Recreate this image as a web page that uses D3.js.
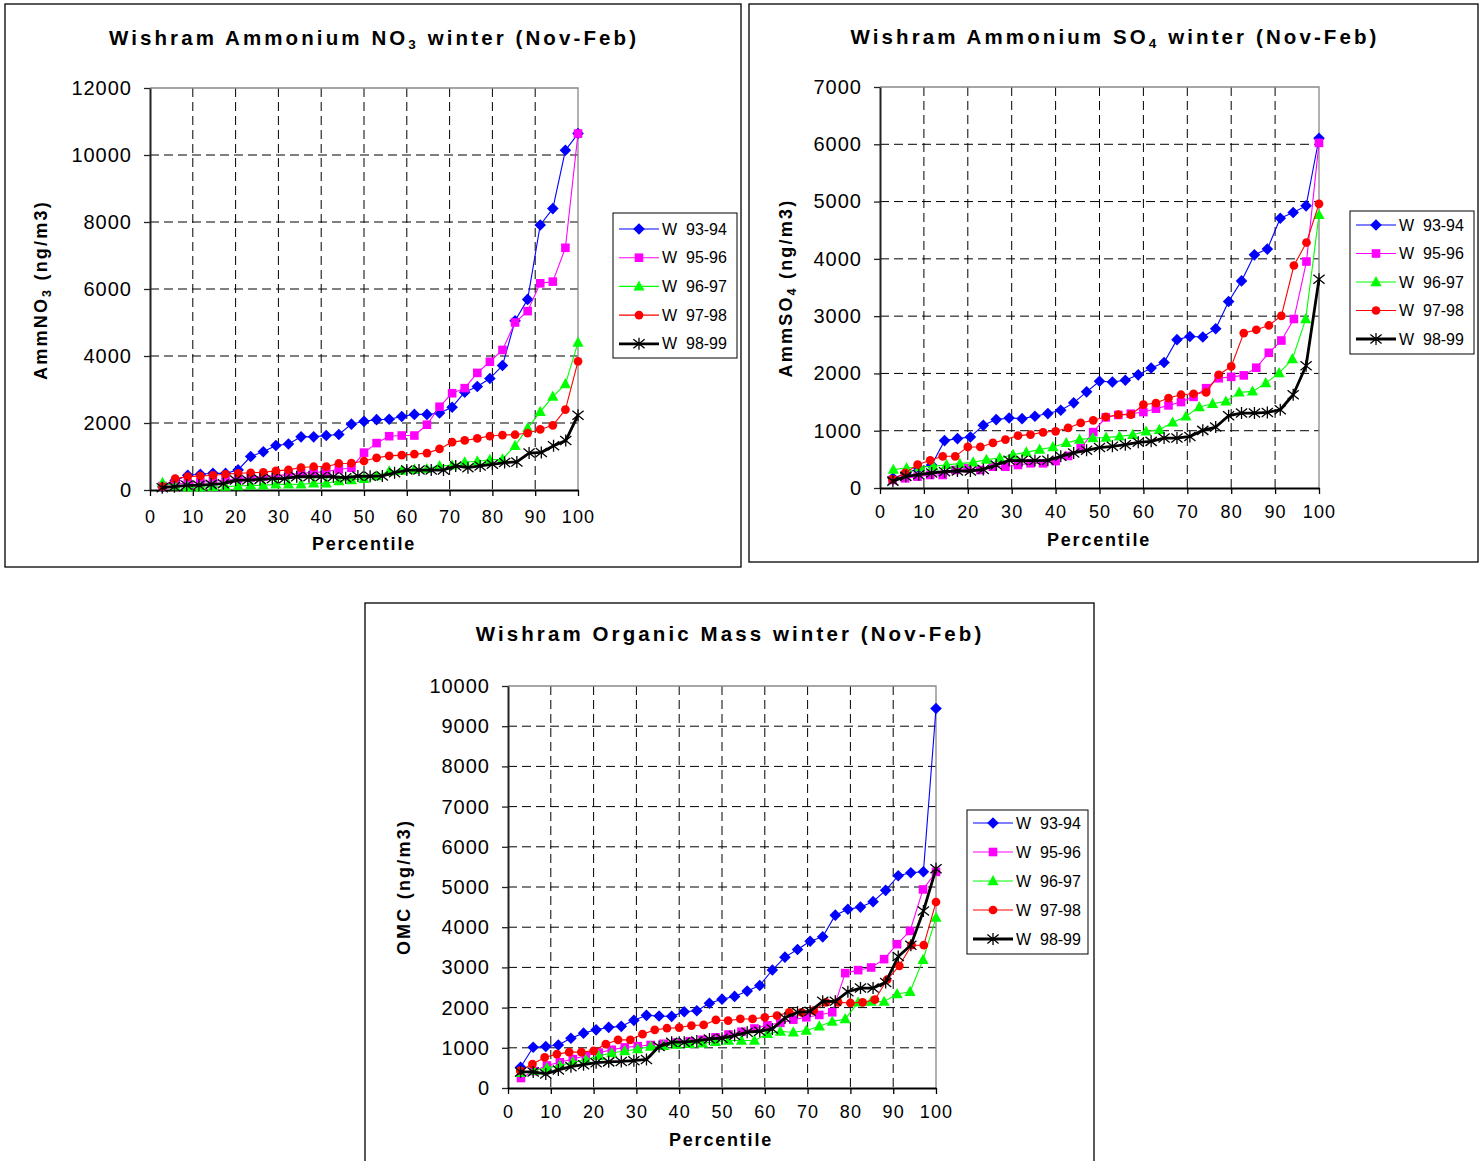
<!DOCTYPE html>
<html>
<head>
<meta charset="utf-8">
<script src="https://cdn.jsdelivr.net/npm/d3@7/dist/d3.min.js"></script>
<style>
  body { margin: 0; background: #fff; }
  svg { display: block; }
  text { font-family: "Liberation Sans", Arial, sans-serif; fill: #000; }
</style>
</head>
<body>
<div id="chart"></div>
<script>
// legend labels, same for every panel
const seasons = ["W  93-94", "W  95-96", "W  96-97", "W  97-98", "W  98-99"]
const xTicks = [0, 10, 20, 30, 40, 50, 60, 70, 80, 90, 100]

// ammonium nitrate (ng/m3), sorted winter samples
const no3W9394 = [100, 280, 440, 470, 500, 495, 600, 1000, 1140, 1330, 1375, 1587, 1587, 1627, 1656, 1965, 2050, 2100, 2110, 2196, 2256, 2256, 2300, 2472, 2920, 3090, 3330, 3715, 5050, 5690, 7910, 8400, 10140, 10640]
const no3W9596 = [120, 180, 200, 230, 260, 300, 340, 370, 400, 430, 460, 500, 520, 550, 614, 663, 1115, 1400, 1606, 1626, 1626, 1949, 2485, 2889, 3040, 3495, 3828, 4180, 5000, 5340, 6170, 6220, 7230, 10640]
const no3W9697 = [218, 119, 80, 80, 99, 100, 119, 139, 139, 168, 168, 170, 198, 200, 267, 297, 337, 420, 560, 580, 610, 630, 720, 740, 830, 860, 900, 920, 1320, 1848, 2333, 2788, 3161, 4400]
const no3W9798 = [100, 337, 400, 420, 440, 470, 500, 515, 530, 570, 600, 670, 695, 700, 792, 800, 865, 960, 1020, 1040, 1071, 1101, 1225, 1430, 1480, 1540, 1610, 1640, 1650, 1700, 1808, 1930, 2400, 3840]
const no3W9899 = [69, 99, 139, 139, 168, 188, 297, 297, 317, 337, 337, 396, 396, 396, 396, 366, 416, 410, 420, 515, 596, 596, 596, 596, 717, 667, 717, 768, 818, 838, 1101, 1121, 1323, 1475, 2232]

// ammonium sulfate (ng/m3)
const so4W9394 = [175, 250, 350, 400, 827, 862, 891, 1094, 1194, 1223, 1211, 1252, 1299, 1357, 1486, 1678, 1864, 1850, 1880, 1975, 2095, 2190, 2590, 2645, 2635, 2780, 3255, 3615, 4070, 4170, 4710, 4810, 4925, 6105]
const so4W9596 = [140, 169, 198, 227, 227, 314, 343, 314, 372, 372, 402, 431, 431, 470, 560, 695, 975, 1233, 1275, 1297, 1326, 1385, 1442, 1500, 1591, 1742, 1916, 1940, 1966, 2100, 2360, 2574, 2950, 3953, 6024]
const so4W9697 = [320, 350, 367, 378, 407, 425, 448, 495, 524, 582, 622, 670, 717, 787, 845, 874, 880, 901, 930, 988, 1017, 1145, 1250, 1413, 1471, 1512, 1669, 1686, 1831, 2006, 2250, 2948, 4767]
const so4W9798 = [150, 262, 407, 483, 553, 553, 717, 717, 787, 845, 914, 932, 972, 990, 1049, 1136, 1182, 1240, 1279, 1279, 1454, 1483, 1570, 1628, 1645, 1669, 1977, 2122, 2704, 2762, 2837, 3006, 3884, 4285, 4960]
const so4W9899 = [120, 203, 232, 262, 285, 297, 297, 325, 402, 483, 478, 478, 483, 553, 612, 658, 705, 727, 756, 797, 814, 872, 872, 901, 1006, 1064, 1262, 1308, 1308, 1320, 1366, 1628, 2134, 3645]

// organic mass (ng/m3)
const omcW9394 = [517, 1013, 1033, 1071, 1236, 1365, 1447, 1509, 1534, 1683, 1807, 1790, 1782, 1898, 1922, 2109, 2210, 2278, 2410, 2551, 2935, 3255, 3445, 3651, 3760, 4300, 4445, 4500, 4636, 4917, 5280, 5355, 5380, 9439]
const omcW9596 = [248, 420, 560, 640, 720, 800, 880, 950, 1010, 1040, 1070, 1100, 1130, 1160, 1200, 1260, 1330, 1400, 1480, 1560, 1620, 1700, 1759, 1817, 1883, 2858, 2932, 2998, 3205, 3577, 3907, 4939, 5377]
const omcW9697 = [380, 430, 500, 560, 640, 700, 800, 870, 920, 970, 1030, 1050, 1080, 1100, 1110, 1150, 1181, 1181, 1181, 1346, 1404, 1388, 1429, 1536, 1652, 1718, 2130, 2148, 2148, 2338, 2395, 3188, 4237]
const omcW9798 = [430, 595, 760, 843, 892, 892, 925, 1090, 1198, 1198, 1338, 1446, 1487, 1503, 1553, 1569, 1693, 1677, 1718, 1718, 1759, 1801, 1883, 1883, 1925, 2131, 2131, 2115, 2131, 2197, 2693, 3040, 3552, 3552, 4626]
const omcW9899 = [400, 400, 350, 450, 530, 580, 630, 650, 660, 680, 710, 1030, 1140, 1140, 1170, 1220, 1240, 1305, 1388, 1412, 1470, 1743, 1883, 1908, 2156, 2156, 2395, 2486, 2486, 2627, 3271, 3552, 4403, 5452]

// look of each season, in legend order
const styles = [
  {color: '#0000ff', marker: 'diamond', width: 1.1},
  {color: '#ff00ff', marker: 'square', width: 1.1},
  {color: '#00ff00', marker: 'triangle', width: 1.1},
  {color: '#ff0000', marker: 'circle', width: 1.1},
  {color: '#000000', marker: 'star', width: 2.8}
]

const panels = [
  {
    frame: {x: 5, y: 4, w: 736, h: 563},
    plot: {x0: 150, x1: 578, y0: 88, y1: 490},
    yMax: 12000, yStep: 2000, xPad: 14,
    title: ['Wishram Ammonium NO', '3', ' winter (Nov-Feb)'], titleX: 374, titleY: 45,
    ylabel: ['AmmNO', '3', ' (ng/m3)'], ylabelX: 47, ylabelY: 290,
    xlabelX: 364, xlabelY: 550,
    legend: {x: 613, y: 213, w: 124, h: 145, row0: 229, step: 28.7},
    series: [no3W9394, no3W9596, no3W9697, no3W9798, no3W9899]
  },
  {
    frame: {x: 749, y: 4, w: 729, h: 558},
    plot: {x0: 880, x1: 1319, y0: 87, y1: 488},
    yMax: 7000, yStep: 1000, xPad: 11,
    title: ['Wishram Ammonium SO', '4', ' winter (Nov-Feb)'], titleX: 1115, titleY: 44,
    ylabel: ['AmmSO', '4', ' (ng/m3)'], ylabelX: 792, ylabelY: 288,
    xlabelX: 1099, xlabelY: 546,
    legend: {x: 1350, y: 211, w: 124, h: 143, row0: 225, step: 28.5},
    series: [so4W9394, so4W9596, so4W9697, so4W9798, so4W9899]
  },
  {
    frame: {x: 365, y: 603, w: 729, h: 620},
    plot: {x0: 508, x1: 936, y0: 686, y1: 1088},
    yMax: 10000, yStep: 1000, xPad: 11,
    title: ['Wishram Organic Mass winter (Nov-Feb)'], titleX: 730, titleY: 641,
    ylabel: ['OMC (ng/m3)'], ylabelX: 410, ylabelY: 887,
    xlabelX: 721, xlabelY: 1146,
    legend: {x: 967, y: 810, w: 121, h: 144, row0: 823, step: 29},
    series: [omcW9394, omcW9596, omcW9697, omcW9798, omcW9899]
  }
]

function markerPath(kind) {
  switch (kind) {
    case 'diamond': return 'M0,-5.8L5.8,0L0,5.8L-5.8,0Z'
    case 'square': return 'M-4.3,-4.3H4.3V4.3H-4.3Z'
    case 'triangle': return 'M0,-6L5.6,4.2H-5.6Z'
    case 'circle': return d3.symbol(d3.symbolCircle, 60)()
    default: return 'M0,-6V6M-5.6,-4.5L5.6,4.5M-5.6,4.5L5.6,-4.5'
  }
}

function drawMarker(sel, st) {
  sel.attr('d', markerPath(st.marker))
  if (st.marker === 'star') {
    sel.attr('fill', 'none').attr('stroke', st.color).attr('stroke-width', 1.3)
  } else {
    sel.attr('fill', st.color).attr('stroke', 'none')
  }
}

// text with optional subscript: parts = [main, sub, rest]
function richText(el, parts, subSize) {
  el.append('tspan').text(parts[0])
  if (parts.length > 1) {
    el.append('tspan').attr('font-size', subSize).attr('dy', 4).text(parts[1])
    el.append('tspan').attr('dy', -4).text(parts[2])
  }
}

const svg = d3.select('#chart').append('svg')
  .attr('width', 1484)
  .attr('height', 1161)

panels.forEach(p => {
  let g = svg.append('g')
  let x = d3.scaleLinear().domain([0, 100]).range([p.plot.x0, p.plot.x1])
  let y = d3.scaleLinear().domain([0, p.yMax]).range([p.plot.y1, p.plot.y0])
  let yTicks = d3.range(0, p.yMax + 1, p.yStep)

  g.append('rect')
    .attr('x', p.frame.x).attr('y', p.frame.y)
    .attr('width', p.frame.w).attr('height', p.frame.h)
    .attr('fill', '#fff').attr('stroke', '#000').attr('stroke-width', 1.3)

  // dashed grid
  g.selectAll('.hgrid').data(yTicks.slice(1, -1)).enter().append('line')
    .attr('x1', p.plot.x0).attr('x2', p.plot.x1)
    .attr('y1', d => y(d)).attr('y2', d => y(d))
    .attr('stroke', '#000').attr('stroke-width', 1).attr('stroke-dasharray', '9,5')
  g.selectAll('.vgrid').data(xTicks.slice(1, -1)).enter().append('line')
    .attr('x1', d => x(d)).attr('x2', d => x(d))
    .attr('y1', p.plot.y0).attr('y2', p.plot.y1)
    .attr('stroke', '#000').attr('stroke-width', 1).attr('stroke-dasharray', '9,5')

  // plot area top and right edges
  g.append('path')
    .attr('d', `M${p.plot.x0},${p.plot.y0}H${p.plot.x1}V${p.plot.y1}`)
    .attr('fill', 'none').attr('stroke', '#888').attr('stroke-width', 1.3)

  let yAxis = g.append('g')
    .attr('transform', `translate(${p.plot.x0},0)`)
    .call(d3.axisLeft(y).tickValues(yTicks).tickSize(6).tickSizeOuter(0).tickPadding(12).tickFormat(d3.format('d')))
  yAxis.select('.domain').attr('stroke', '#222').attr('stroke-width', 2)
  yAxis.selectAll('.tick line').attr('stroke', '#222').attr('stroke-width', 1.3)
  yAxis.selectAll('.tick text')
    .attr('font-size', 20).attr('letter-spacing', 1)
    .attr('font-family', '"Liberation Sans", Arial, sans-serif').attr('fill', '#000')

  let xAxis = g.append('g')
    .attr('transform', `translate(0,${p.plot.y1})`)
    .call(d3.axisBottom(x).tickValues(xTicks).tickSize(6).tickSizeOuter(0).tickPadding(p.xPad))
  xAxis.select('.domain').attr('stroke', '#000').attr('stroke-width', 2)
  xAxis.selectAll('.tick line').attr('stroke', '#000').attr('stroke-width', 1.3)
  xAxis.selectAll('.tick text')
    .attr('font-size', 18).attr('letter-spacing', 1.1)
    .attr('font-family', '"Liberation Sans", Arial, sans-serif').attr('fill', '#000')

  // series
  p.series.forEach((vals, si) => {
    let st = styles[si]
    let pts = vals.map((v, i) => ({p: 100 * (i + 1) / vals.length, v: v}))
    let line = d3.line().x(d => x(d.p)).y(d => y(d.v))
    g.append('path')
      .datum(pts)
      .attr('d', line)
      .attr('fill', 'none')
      .attr('stroke', st.color)
      .attr('stroke-width', st.width)
      .attr('stroke-linejoin', 'round')
    g.selectAll('.m' + si).data(pts).enter().append('path')
      .attr('class', 'm' + si)
      .attr('transform', d => `translate(${x(d.p)},${y(d.v)})`)
      .call(drawMarker, st)
  })

  // titles
  let t = g.append('text')
    .attr('x', p.titleX).attr('y', p.titleY)
    .attr('text-anchor', 'middle')
    .attr('font-size', 20.5).attr('font-weight', 'bold').attr('letter-spacing', 3.1)
  richText(t, p.title, 13.5)

  let yl = g.append('text')
    .attr('transform', `translate(${p.ylabelX},${p.ylabelY}) rotate(-90)`)
    .attr('text-anchor', 'middle')
    .attr('font-size', 18).attr('font-weight', 'bold').attr('letter-spacing', 2.2)
  richText(yl, p.ylabel, 12.5)

  g.append('text')
    .attr('x', p.xlabelX).attr('y', p.xlabelY)
    .attr('text-anchor', 'middle')
    .attr('font-size', 18).attr('font-weight', 'bold').attr('letter-spacing', 1.8)
    .text('Percentile')

  // legend
  let lg = g.append('g')
  lg.append('rect')
    .attr('x', p.legend.x).attr('y', p.legend.y)
    .attr('width', p.legend.w).attr('height', p.legend.h)
    .attr('fill', '#fff').attr('stroke', '#000').attr('stroke-width', 1)
  seasons.forEach((name, i) => {
    let st = styles[i]
    let ry = p.legend.row0 + i * p.legend.step
    lg.append('line')
      .attr('x1', p.legend.x + 6).attr('x2', p.legend.x + 46)
      .attr('y1', ry).attr('y2', ry)
      .attr('stroke', st.color).attr('stroke-width', st.width)
    lg.append('path')
      .attr('transform', `translate(${p.legend.x + 26},${ry})`)
      .call(drawMarker, st)
    lg.append('text')
      .attr('x', p.legend.x + 49).attr('y', ry + 5.5)
      .attr('font-size', 16)
      .style('white-space', 'pre')
      .text(name)
  })
})
</script>
</body>
</html>
